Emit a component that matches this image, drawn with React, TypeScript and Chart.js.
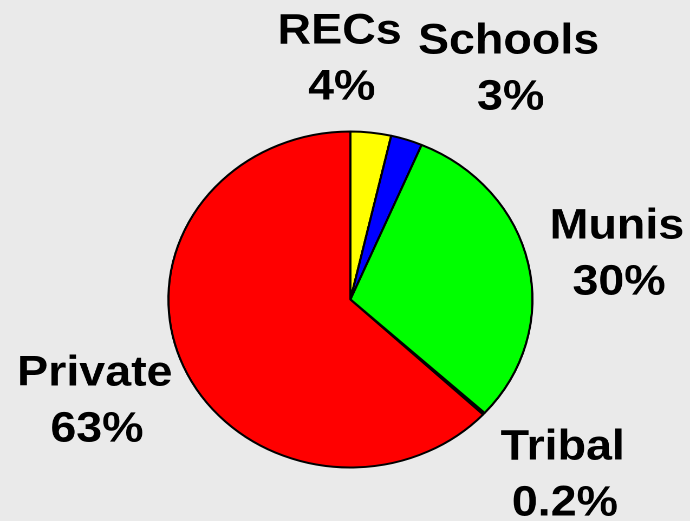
import React, { useEffect, useRef } from "react";
import { Chart, registerables } from "chart.js";

Chart.register(...registerables);

const categories = ["RECs", "Schools", "Munis", "Tribal", "Private"];
const shares = [3.6, 2.8, 30.4, 0.2, 63.0];
const shareLabels = ["4%", "3%", "30%", "0.2%", "63%"];
const sliceColors = ["#FFFF00", "#0000FF", "#00FF00", "#660000", "#FF0000"];

// label anchors relative to the pie centre (internal canvas px): [dx, dy of first baseline]
const labelOffsets: [number, number][] = [
  [-10, -256],
  [146, -246],
  [246, -61],
  [196, 160],
  [-236, 86],
];

const STRETCH = 1.083;
const OUT_W = 690;
const OUT_H = 521;
const IN_W = Math.round(OUT_W / STRETCH);

const labelPlugin = {
  id: "pieLabels",
  afterDraw(chart: any) {
    const meta = chart.getDatasetMeta(0);
    const arc = meta.data[0];
    if (!arc) return;
    const cx = arc.x;
    const cy = arc.y;
    const ctx = chart.ctx;
    ctx.save();
    ctx.fillStyle = "#000000";
    ctx.font = "bold 43px 'Liberation Sans', Arial, sans-serif";
    ctx.textAlign = "center";
    ctx.textBaseline = "alphabetic";
    const labels = chart.data.labels as string[];
    labels.forEach((name, i) => {
      const [dx, dy] = labelOffsets[i];
      ctx.fillText(name, cx + dx, cy + dy);
      ctx.fillText(shareLabels[i], cx + dx + 2, cy + dy + 56);
    });
    ctx.restore();
  },
};

export default function App() {
  const ref = useRef<HTMLCanvasElement | null>(null);
  useEffect(() => {
    if (!ref.current) return;
    const chart = new Chart(ref.current, {
      type: "pie",
      data: {
        labels: categories,
        datasets: [
          {
            data: shares,
            backgroundColor: sliceColors,
            borderColor: "#000000",
            borderWidth: 2,
            radius: 168,
          } as any,
        ],
      },
      options: {
        animation: false,
        responsive: false,
        devicePixelRatio: 2,
        layout: { padding: { left: 155, right: IN_W - 155 - 337, top: 131, bottom: 53 } },
        plugins: {
          legend: { display: false },
          tooltip: { enabled: false },
        },
      },
      plugins: [labelPlugin],
    });
    return () => chart.destroy();
  }, []);
  return (
    <div
      style={{
        position: "fixed",
        left: 0,
        top: 0,
        width: OUT_W,
        height: OUT_H,
        background: "#EAEAEA",
        overflow: "hidden",
      }}
    >
      <canvas
        ref={ref}
        width={IN_W}
        height={OUT_H}
        style={{ width: OUT_W + "px", height: OUT_H + "px", display: "block" }}
      />
    </div>
  );
}
